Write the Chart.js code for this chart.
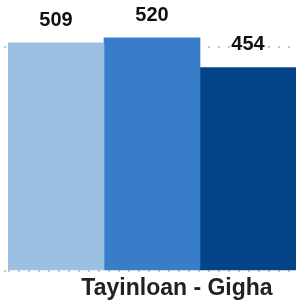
<!DOCTYPE html>
<html>
<head>
<meta charset="utf-8">
<script src="https://cdn.jsdelivr.net/npm/chart.js@4"></script>
<style>
  html, body { margin: 0; padding: 0; background: #fff; }
  #wrap { width: 296px; height: 301px; }
</style>
</head>
<body>
<div id="wrap"><canvas id="chart"></canvas></div>
<script>
// data
const categories = ['Tayinloan - Gigha'];
const seriesValues = [509, 520, 454];
const seriesColors = ['#9cc0e2', '#387dc8', '#034488'];
const yTicks = [0, 500];

// value labels above each bar
const valueLabels = {
  id: 'valueLabels',
  afterDatasetsDraw(chart) {
    const ctx = chart.ctx;
    ctx.save();
    ctx.font = 'bold 20px "Liberation Sans", Arial, sans-serif';
    ctx.fillStyle = '#111';
    ctx.textAlign = 'center';
    ctx.textBaseline = 'alphabetic';
    chart.data.datasets.forEach((ds, i) => {
      const meta = chart.getDatasetMeta(i);
      meta.data.forEach((bar, j) => {
        ctx.fillText(ds.data[j], bar.x, bar.y - 17);
      });
    });
    ctx.restore();
  }
};

new Chart(document.getElementById('chart'), {
  type: 'bar',
  data: {
    labels: categories,
    datasets: seriesValues.map((v, i) => ({
      data: [v],
      backgroundColor: seriesColors[i],
      borderWidth: 0,
      categoryPercentage: 1,
      barPercentage: 1
    }))
  },
  options: {
    responsive: true,
    maintainAspectRatio: false,
    animation: false,
    layout: { padding: { left: 4, right: 0, top: 2, bottom: -6 } },
    plugins: {
      legend: { display: false },
      tooltip: { enabled: false }
    },
    scales: {
      x: {
        grid: { display: false, drawTicks: false },
        border: { display: false },
        ticks: {
          color: '#222',
          padding: 5,
          labelOffset: 25,
          font: { family: '"Liberation Sans", Arial, sans-serif', size: 23, weight: 'bold', lineHeight: 1.13 }
        }
      },
      y: {
        min: 0,
        max: 600,
        afterBuildTicks: (axis) => {
          axis.ticks = yTicks.map(v => ({ value: v }));
        },
        ticks: { display: false },
        grid: {
          color: '#c4c4c4',
          lineWidth: 2,
          tickLength: 4,
          tickColor: '#c4c4c4',
          tickWidth: 2,
          tickBorderDash: [2, 8]
        },
        border: { display: false, dash: [2, 8] }
      }
    }
  },
  plugins: [valueLabels]
});
</script>
</body>
</html>
